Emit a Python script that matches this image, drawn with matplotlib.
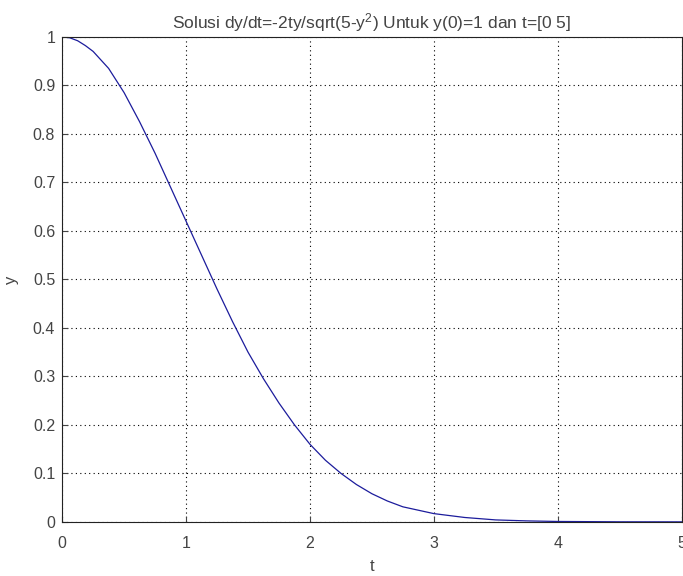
import matplotlib
matplotlib.use("Agg")
import matplotlib.pyplot as plt

# values
t = [0, 0.0625, 0.125, 0.1875, 0.25, 0.375, 0.5, 0.625, 0.75, 0.875, 1.0, 1.125,
     1.25, 1.375, 1.5, 1.625, 1.75, 1.875, 2.0, 2.125, 2.25, 2.375, 2.5, 2.625,
     2.75, 3.0, 3.25, 3.5, 3.75, 4.0, 4.5, 5.0]
y = [1.0, 0.998, 0.992, 0.982, 0.97, 0.935, 0.885, 0.825, 0.76, 0.69, 0.62, 0.55,
     0.48, 0.413, 0.35, 0.295, 0.245, 0.20, 0.16, 0.127, 0.10, 0.077, 0.058,
     0.043, 0.031, 0.017, 0.009, 0.004, 0.002, 0.0008, 0.0001, 0.0]
xticks = [0, 1, 2, 3, 4, 5]
yticks = [0, 0.1, 0.2, 0.3, 0.4, 0.5, 0.6, 0.7, 0.8, 0.9, 1]
ytick_labels = ['0', '0.1', '0.2', '0.3', '0.4', '0.5', '0.6', '0.7', '0.8', '0.9', '1']

plt.rcParams['font.family'] = ['Liberation Sans', 'DejaVu Sans']
plt.rcParams['mathtext.fontset'] = 'custom'
plt.rcParams['mathtext.rm'] = 'Liberation Sans'
plt.rcParams['mathtext.it'] = 'Liberation Sans'

fig = plt.figure(figsize=(6.83, 5.76), dpi=100)
ax = fig.add_axes([0.091, 0.094, 0.907, 0.842])

ax.plot(t, y, color='#1c1c9c', linewidth=0.9)

ax.set_xlim(0, 5)
ax.set_ylim(0, 1)
ax.set_xticks(xticks)
ax.set_yticks(yticks)
ax.set_yticklabels(ytick_labels)
ax.tick_params(direction='in', length=4, labelsize=11.5, colors='#444444', pad=5)
ax.tick_params(axis='x', pad=10)
ax.grid(True, linestyle=(0, (1, 3)), color='black', linewidth=0.8)

for s in ax.spines.values():
    s.set_color('#222222')
    s.set_linewidth(0.8)

ax.set_xlabel('t', fontsize=12, color='#444444', labelpad=6)
ax.set_ylabel('y', fontsize=12, color='#444444', labelpad=10)
ax.set_title('Solusi dy/dt=-2ty/sqrt(5-y$^2$) Untuk y(0)=1 dan t=[0 5]',
             fontsize=12.5, color='#444444', pad=6)

fig.savefig('out.png', dpi=100)
